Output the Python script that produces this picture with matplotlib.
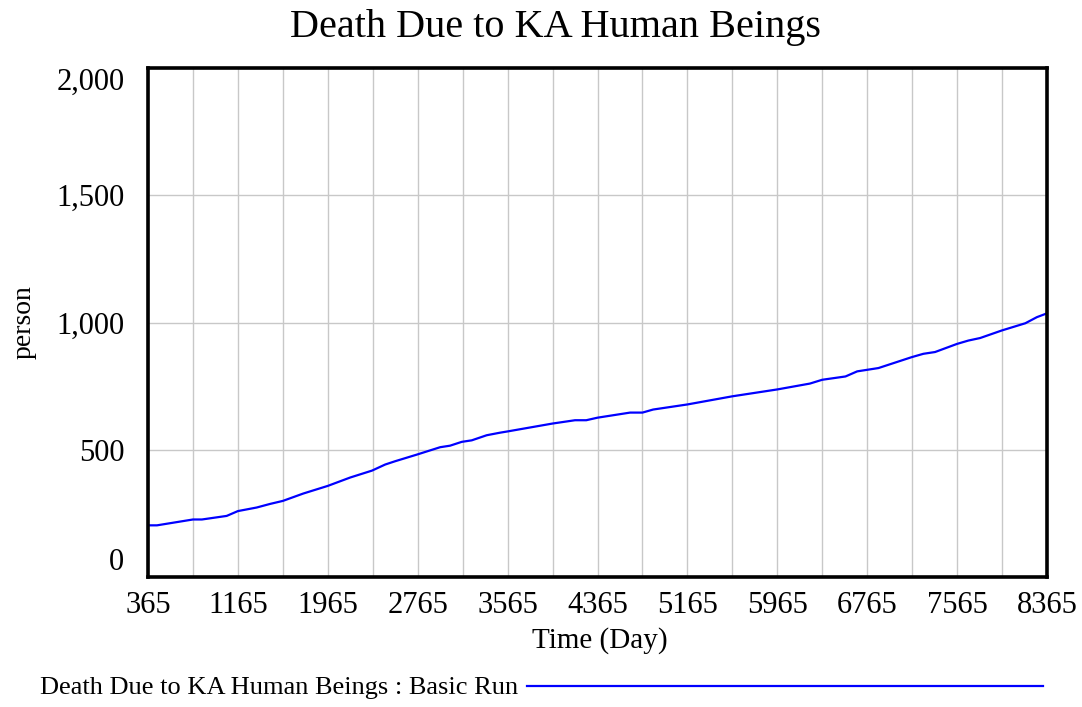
import matplotlib
matplotlib.use('Agg')
import matplotlib.pyplot as plt
from matplotlib.ticker import FuncFormatter, FixedLocator

# values (Time in days, deaths in persons)
time_day = [365, 445, 765, 845, 1065, 1165, 1332, 1450, 1565, 1747, 1965,
            2165, 2358, 2476, 2565, 2758, 2965, 3053, 3157, 3246, 3379,
            3497, 3565, 3965, 4165, 4265, 4365, 4655, 4765, 4860, 5165,
            5565, 5965, 6255, 6365, 6572, 6676, 6865, 7162, 7265, 7369,
            7565, 7665, 7770, 7965, 8172, 8275, 8365]
deaths = [203, 203, 226, 226, 240, 259, 273, 287, 299, 328, 358,
          391, 418, 442, 455, 481, 510, 516, 531, 537, 557,
          567, 572, 603, 616, 616, 626, 646, 646, 658, 678,
          710, 737, 760, 775, 788, 808, 821, 864, 877, 884,
          916, 929, 939, 969, 997, 1021, 1036]

x_ticks = [365, 1165, 1965, 2765, 3565, 4365, 5165, 5965, 6765, 7565, 8365]
x_minor = [765, 1565, 2365, 3165, 3965, 4765, 5565, 6365, 7165, 7965]
y_ticks = [0, 500, 1000, 1500, 2000]

plt.rcParams['font.family'] = ['Liberation Serif', 'DejaVu Serif']

fig = plt.figure(figsize=(10.82, 7.07), dpi=100)
ax = fig.add_axes([148 / 1082, 1 - 577 / 707, 899 / 1082, 509 / 707])

ax.plot(time_day, deaths, color='#0000ff', linewidth=1.6)

ax.set_xlim(365, 8365)
ax.set_ylim(0, 2000)
ax.set_xticks(x_ticks)
ax.xaxis.set_minor_locator(FixedLocator(x_minor))
ax.set_yticks(y_ticks)
ax.yaxis.set_major_formatter(FuncFormatter(lambda v, p: f'{int(v):,}'))

ax.grid(True, which='both', axis='x', color='#c8c8c8', linewidth=1)
ax.grid(True, which='major', axis='y', color='#c8c8c8', linewidth=1)
ax.set_axisbelow(True)
ax.tick_params(which='both', length=0, labelsize=22, colors='black')
ax.tick_params(axis='x', pad=10)
ax.tick_params(axis='y', pad=17)

for s in ax.spines.values():
    s.set_linewidth(2.6)
    s.set_color('black')

# end labels on the y axis sit inside the range
yl = ax.get_yticklabels()
yl[0].set_va('bottom')
yl[-1].set_va('top')

ax.set_ylabel('person', fontsize=20, labelpad=14)
fig.text(556 / 1082, 1 - 28 / 707, 'Death Due to KA Human Beings',
         fontsize=29, ha='center', va='center')
fig.text(600 / 1082, 1 - 641 / 707, 'Time (Day)', fontsize=21,
         ha='center', va='center')
fig.text(40 / 1082, 1 - 688 / 707, 'Death Due to KA Human Beings : Basic Run',
         fontsize=19, ha='left', va='center')
fig.add_artist(plt.Line2D([527 / 1082, 1043 / 1082], [1 - 686 / 707, 1 - 686 / 707],
                          color='#0000ff', linewidth=1.6, transform=fig.transFigure))

fig.savefig('out.png', dpi=100)
